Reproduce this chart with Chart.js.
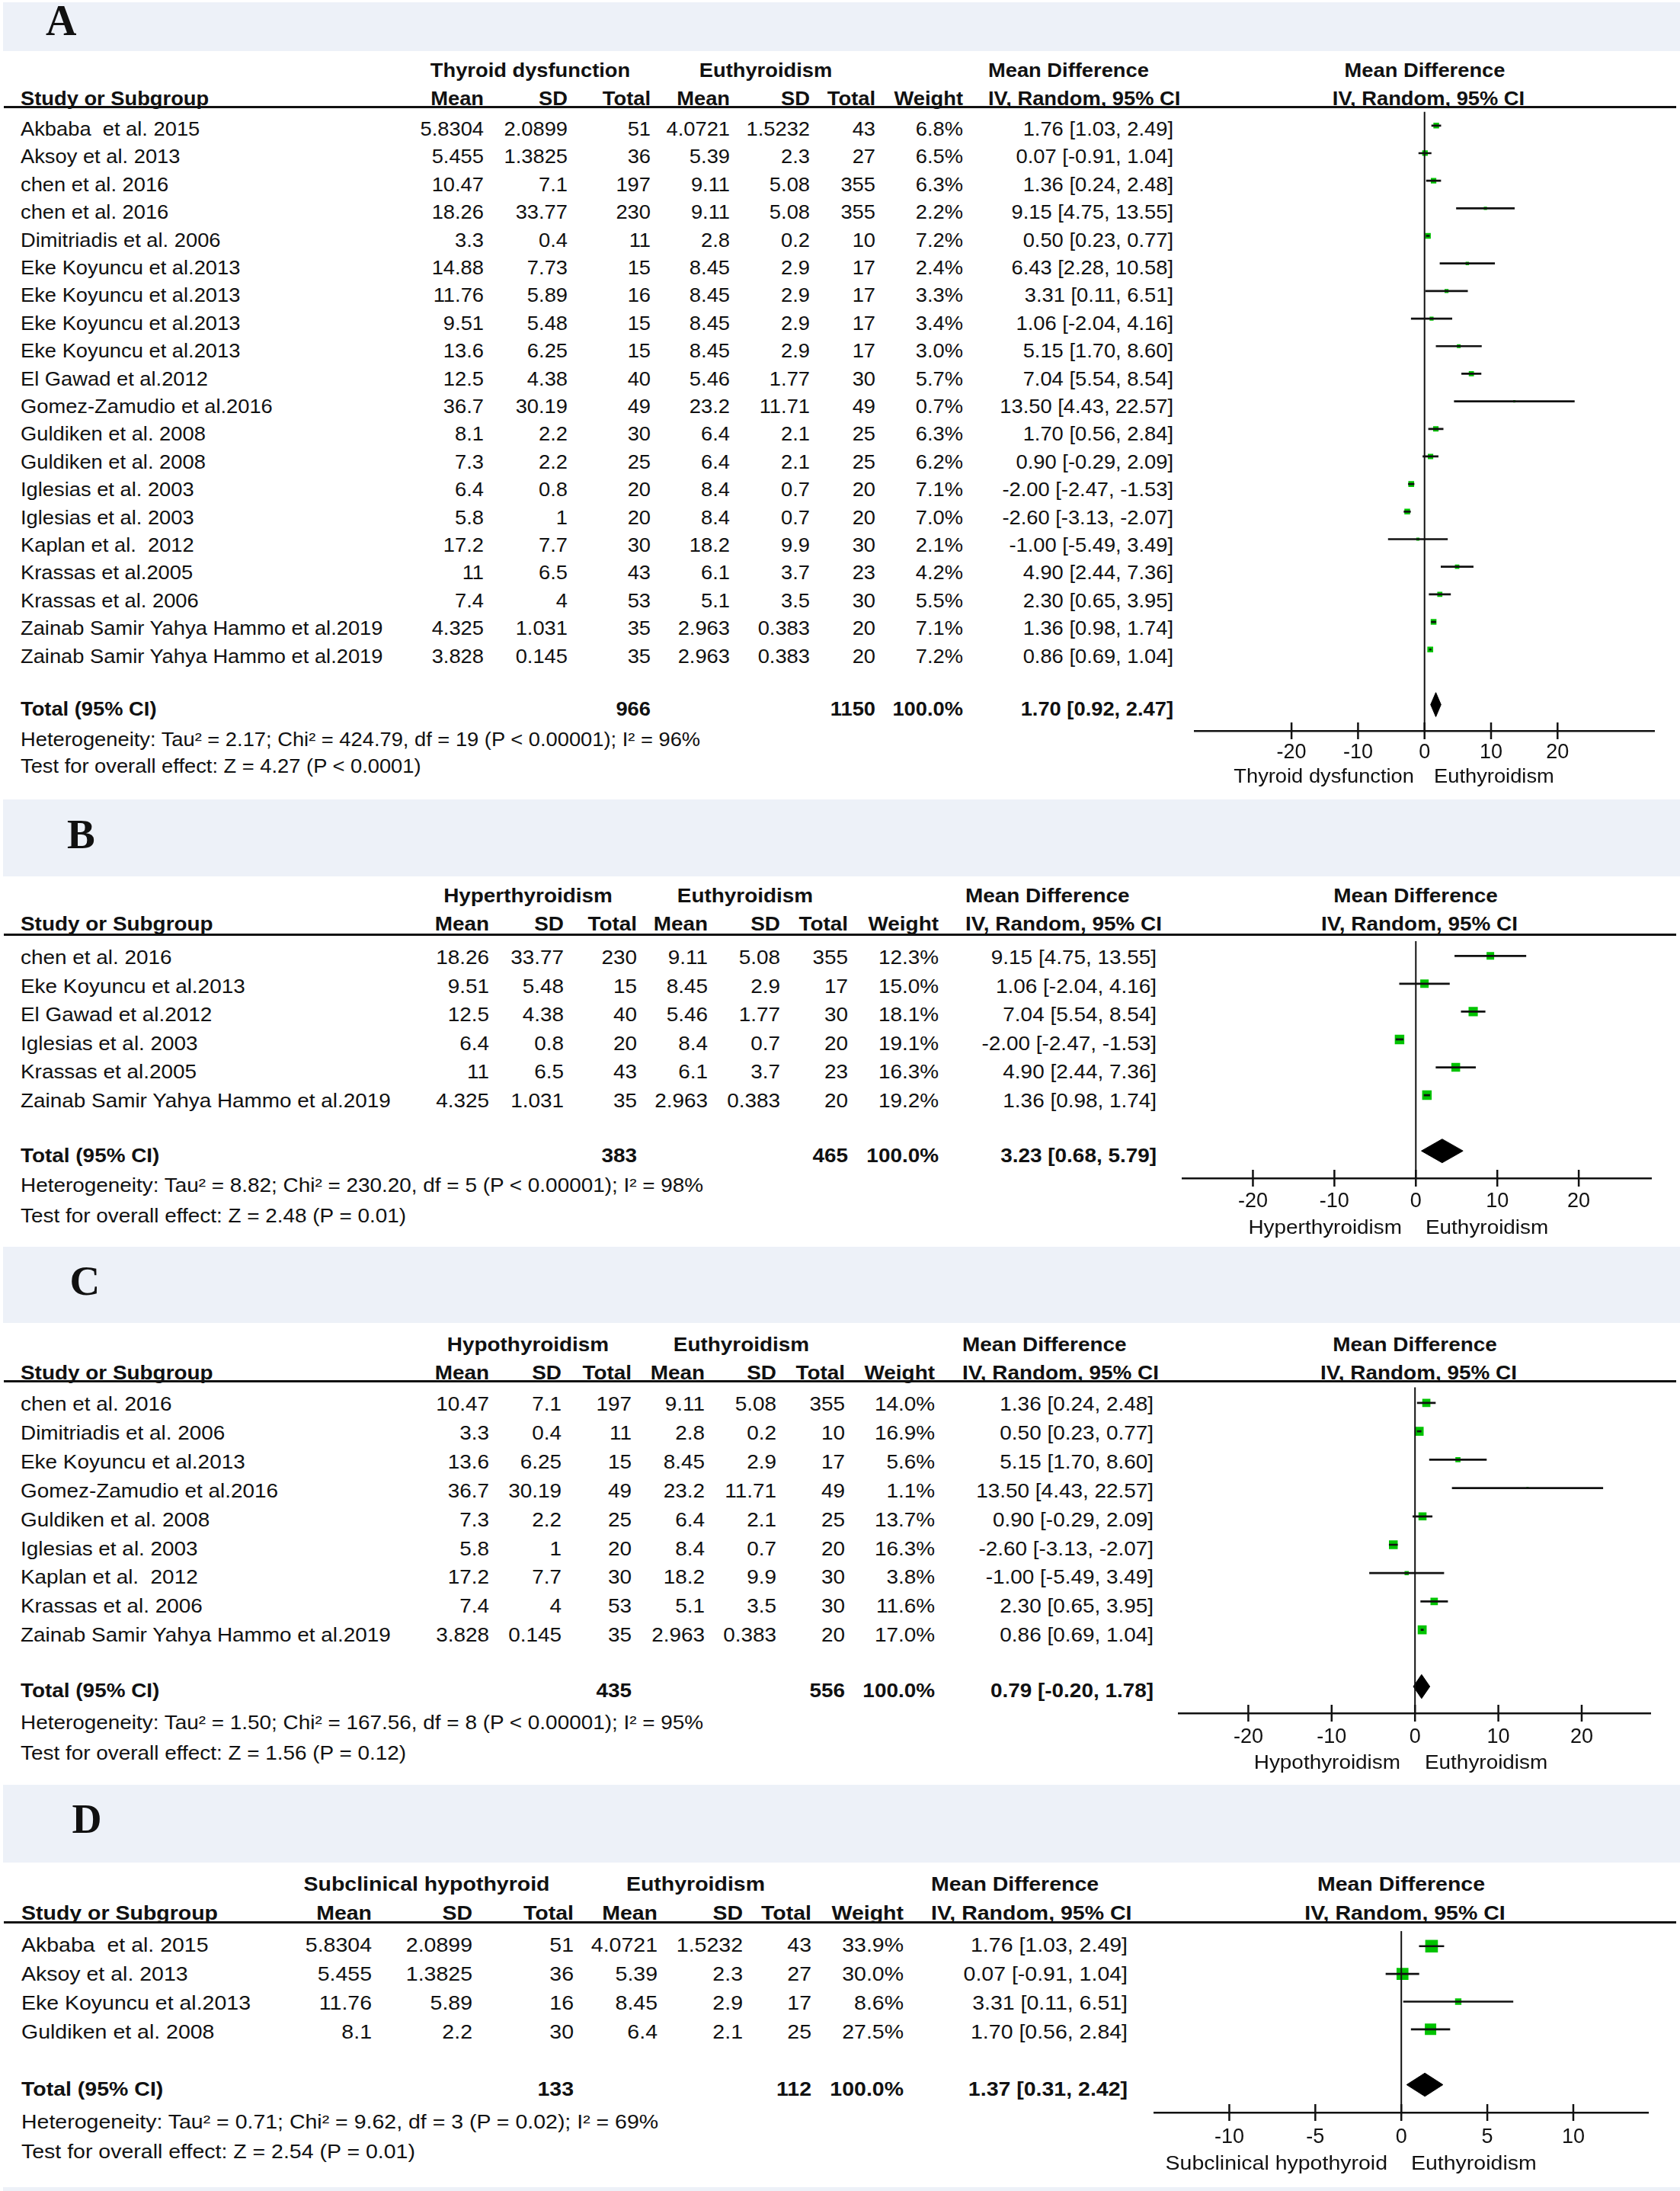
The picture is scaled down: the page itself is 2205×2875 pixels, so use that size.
<!DOCTYPE html>
<html>
<head>
<meta charset="utf-8">
<script src="https://cdn.jsdelivr.net/npm/chart.js@4.4.1/dist/chart.umd.min.js"></script>
<style>
body { margin: 0; background: #fff; }
#page { position: relative; width: 2205px; height: 2875px; overflow: hidden; font-family: "Liberation Sans", Arial, sans-serif; color: #111; }
.t { position: absolute; white-space: pre; font-size: 26px; line-height: 30px; height: 30px; }
.band { position: absolute; left: 4px; right: 0; background: #edf1f8; }
.hl { position: absolute; left: 5px; width: 2195px; height: 3px; background: #111; }
.letter { position: absolute; font-family: "Liberation Serif", "Times New Roman", serif; font-weight: bold; line-height: 60px; height: 60px; }
canvas { position: absolute; }
</style>
</head>
<body>
<div id="page"></div>
<script>
// ---- A: thyroid dysfunction vs euthyroidism ----
const namesA = ["Akbaba  et al. 2015", "Aksoy et al. 2013", "chen et al. 2016", "chen et al. 2016", "Dimitriadis et al. 2006",
  "Eke Koyuncu et al.2013", "Eke Koyuncu et al.2013", "Eke Koyuncu et al.2013", "Eke Koyuncu et al.2013", "El Gawad et al.2012",
  "Gomez-Zamudio et al.2016", "Guldiken et al. 2008", "Guldiken et al. 2008", "Iglesias et al. 2003", "Iglesias et al. 2003",
  "Kaplan et al.  2012", "Krassas et al.2005", "Krassas et al. 2006", "Zainab Samir Yahya Hammo et al.2019", "Zainab Samir Yahya Hammo et al.2019"];
const meanExpA = [5.8304, 5.455, 10.47, 18.26, 3.3, 14.88, 11.76, 9.51, 13.6, 12.5, 36.7, 8.1, 7.3, 6.4, 5.8, 17.2, 11, 7.4, 4.325, 3.828];
const sdExpA = [2.0899, 1.3825, 7.1, 33.77, 0.4, 7.73, 5.89, 5.48, 6.25, 4.38, 30.19, 2.2, 2.2, 0.8, 1, 7.7, 6.5, 4, 1.031, 0.145];
const nExpA = [51, 36, 197, 230, 11, 15, 16, 15, 15, 40, 49, 30, 25, 20, 20, 30, 43, 53, 35, 35];
const meanCtlA = [4.0721, 5.39, 9.11, 9.11, 2.8, 8.45, 8.45, 8.45, 8.45, 5.46, 23.2, 6.4, 6.4, 8.4, 8.4, 18.2, 6.1, 5.1, 2.963, 2.963];
const sdCtlA = [1.5232, 2.3, 5.08, 5.08, 0.2, 2.9, 2.9, 2.9, 2.9, 1.77, 11.71, 2.1, 2.1, 0.7, 0.7, 9.9, 3.7, 3.5, 0.383, 0.383];
const nCtlA = [43, 27, 355, 355, 10, 17, 17, 17, 17, 30, 49, 25, 25, 20, 20, 30, 23, 30, 20, 20];
const weightA = [6.8, 6.5, 6.3, 2.2, 7.2, 2.4, 3.3, 3.4, 3.0, 5.7, 0.7, 6.3, 6.2, 7.1, 7.0, 2.1, 4.2, 5.5, 7.1, 7.2];
const mdA = [1.76, 0.07, 1.36, 9.15, 0.50, 6.43, 3.31, 1.06, 5.15, 7.04, 13.50, 1.70, 0.90, -2.00, -2.60, -1.00, 4.90, 2.30, 1.36, 0.86];
const loA = [1.03, -0.91, 0.24, 4.75, 0.23, 2.28, 0.11, -2.04, 1.70, 5.54, 4.43, 0.56, -0.29, -2.47, -3.13, -5.49, 2.44, 0.65, 0.98, 0.69];
const hiA = [2.49, 1.04, 2.48, 13.55, 0.77, 10.58, 6.51, 4.16, 8.60, 8.54, 22.57, 2.84, 2.09, -1.53, -2.07, 3.49, 7.36, 3.95, 1.74, 1.04];
const totalA = [966, 1150, 1.70, 0.92, 2.47];
const groupA = "Thyroid dysfunction";
const hetA = "Heterogeneity: Tau² = 2.17; Chi² = 424.79, df = 19 (P < 0.00001); I² = 96%";
const testA = "Test for overall effect: Z = 4.27 (P < 0.0001)";
const ticksA = [-20, -10, 0, 10, 20];

// ---- B: hyperthyroidism ----
const namesB = ["chen et al. 2016", "Eke Koyuncu et al.2013", "El Gawad et al.2012", "Iglesias et al. 2003", "Krassas et al.2005", "Zainab Samir Yahya Hammo et al.2019"];
const meanExpB = [18.26, 9.51, 12.5, 6.4, 11, 4.325];
const sdExpB = [33.77, 5.48, 4.38, 0.8, 6.5, 1.031];
const nExpB = [230, 15, 40, 20, 43, 35];
const meanCtlB = [9.11, 8.45, 5.46, 8.4, 6.1, 2.963];
const sdCtlB = [5.08, 2.9, 1.77, 0.7, 3.7, 0.383];
const nCtlB = [355, 17, 30, 20, 23, 20];
const weightB = [12.3, 15.0, 18.1, 19.1, 16.3, 19.2];
const mdB = [9.15, 1.06, 7.04, -2.00, 4.90, 1.36];
const loB = [4.75, -2.04, 5.54, -2.47, 2.44, 0.98];
const hiB = [13.55, 4.16, 8.54, -1.53, 7.36, 1.74];
const totalB = [383, 465, 3.23, 0.68, 5.79];
const groupB = "Hyperthyroidism";
const hetB = "Heterogeneity: Tau² = 8.82; Chi² = 230.20, df = 5 (P < 0.00001); I² = 98%";
const testB = "Test for overall effect: Z = 2.48 (P = 0.01)";
const ticksB = [-20, -10, 0, 10, 20];

// ---- C: hypothyroidism ----
const namesC = ["chen et al. 2016", "Dimitriadis et al. 2006", "Eke Koyuncu et al.2013", "Gomez-Zamudio et al.2016", "Guldiken et al. 2008",
  "Iglesias et al. 2003", "Kaplan et al.  2012", "Krassas et al. 2006", "Zainab Samir Yahya Hammo et al.2019"];
const meanExpC = [10.47, 3.3, 13.6, 36.7, 7.3, 5.8, 17.2, 7.4, 3.828];
const sdExpC = [7.1, 0.4, 6.25, 30.19, 2.2, 1, 7.7, 4, 0.145];
const nExpC = [197, 11, 15, 49, 25, 20, 30, 53, 35];
const meanCtlC = [9.11, 2.8, 8.45, 23.2, 6.4, 8.4, 18.2, 5.1, 2.963];
const sdCtlC = [5.08, 0.2, 2.9, 11.71, 2.1, 0.7, 9.9, 3.5, 0.383];
const nCtlC = [355, 10, 17, 49, 25, 20, 30, 30, 20];
const weightC = [14.0, 16.9, 5.6, 1.1, 13.7, 16.3, 3.8, 11.6, 17.0];
const mdC = [1.36, 0.50, 5.15, 13.50, 0.90, -2.60, -1.00, 2.30, 0.86];
const loC = [0.24, 0.23, 1.70, 4.43, -0.29, -3.13, -5.49, 0.65, 0.69];
const hiC = [2.48, 0.77, 8.60, 22.57, 2.09, -2.07, 3.49, 3.95, 1.04];
const totalC = [435, 556, 0.79, -0.20, 1.78];
const groupC = "Hypothyroidism";
const hetC = "Heterogeneity: Tau² = 1.50; Chi² = 167.56, df = 8 (P < 0.00001); I² = 95%";
const testC = "Test for overall effect: Z = 1.56 (P = 0.12)";
const ticksC = [-20, -10, 0, 10, 20];

// ---- D: subclinical hypothyroid ----
const namesD = ["Akbaba  et al. 2015", "Aksoy et al. 2013", "Eke Koyuncu et al.2013", "Guldiken et al. 2008"];
const meanExpD = [5.8304, 5.455, 11.76, 8.1];
const sdExpD = [2.0899, 1.3825, 5.89, 2.2];
const nExpD = [51, 36, 16, 30];
const meanCtlD = [4.0721, 5.39, 8.45, 6.4];
const sdCtlD = [1.5232, 2.3, 2.9, 2.1];
const nCtlD = [43, 27, 17, 25];
const weightD = [33.9, 30.0, 8.6, 27.5];
const mdD = [1.76, 0.07, 3.31, 1.70];
const loD = [1.03, -0.91, 0.11, 0.56];
const hiD = [2.49, 1.04, 6.51, 2.84];
const totalD = [133, 112, 1.37, 0.31, 2.42];
const groupD = "Subclinical hypothyroid";
const hetD = "Heterogeneity: Tau² = 0.71; Chi² = 9.62, df = 3 (P = 0.02); I² = 69%";
const testD = "Test for overall effect: Z = 2.54 (P = 0.01)";
const ticksD = [-10, -5, 0, 5, 10];

const page = document.getElementById("page");
const fontFam = '"Liberation Sans", Arial, sans-serif';
const green = "#00c300";

function box(cls, top, height) {
  const e = document.createElement("div");
  e.className = cls;
  e.style.top = top + "px";
  if (height) e.style.height = height + "px";
  page.appendChild(e);
  return e;
}

function txt(x, y, s, align, bold, sx) {
  const e = document.createElement("div");
  e.className = "t";
  e.textContent = s;
  if (bold) e.style.fontWeight = "bold";
  e.style.top = (y - 15) + "px";
  if (align == "l") {
    e.style.left = x + "px";
    e.style.transformOrigin = "left center";
  } else if (align == "r") {
    e.style.left = (x - 1200) + "px";
    e.style.width = "1200px";
    e.style.textAlign = "right";
    e.style.transformOrigin = "right center";
  } else {
    e.style.left = (x - 600) + "px";
    e.style.width = "1200px";
    e.style.textAlign = "center";
    e.style.transformOrigin = "center center";
  }
  e.style.transform = "scaleX(" + sx + ")";
  page.appendChild(e);
}

function ci(m, l, h) {
  return m.toFixed(2) + " [" + l.toFixed(2) + ", " + h.toFixed(2) + "]";
}

// tick marks that cross the axis line
const crossTicks = {
  id: "crossTicks",
  afterDraw(chart) {
    const s = chart.scales.x;
    const c = chart.ctx;
    const y = chart.chartArea.bottom;
    c.save();
    c.strokeStyle = "#111";
    c.lineWidth = 2.5;
    s.ticks.forEach(t => {
      const px = s.getPixelForValue(t.value);
      c.beginPath();
      c.moveTo(px, y - 11);
      c.lineTo(px, y + 11);
      c.stroke();
    });
    c.restore();
  }
};

function panel(d, L) {
  const sx = L.sx;
  box("band", L.band[0], L.band[1]);
  const lt = document.createElement("div");
  lt.className = "letter";
  lt.textContent = L.letter;
  lt.style.left = L.letterX + "px";
  lt.style.top = (L.letterY - 30) + "px";
  lt.style.fontSize = L.letterSize + "px";
  page.appendChild(lt);

  const c = L.colR;
  // header rows
  txt(L.g1c, L.h1y, d.group, "c", true, sx);
  txt(L.g2c, L.h1y, "Euthyroidism", "c", true, sx);
  txt(L.mdL, L.h1y, "Mean Difference", "l", true, sx);
  txt(L.zero, L.h1y, "Mean Difference", "c", true, sx);
  txt(L.nameX, L.h2y, "Study or Subgroup", "l", true, sx);
  ["Mean", "SD", "Total", "Mean", "SD", "Total", "Weight"].forEach((h, k) => txt(c[k], L.h2y, h, "r", true, sx));
  txt(L.mdL, L.h2y, "IV, Random, 95% CI", "l", true, sx);
  txt(L.zero + 5, L.h2y, "IV, Random, 95% CI", "c", true, sx);
  box("hl", L.lineY - 1.5);

  // study rows
  d.names.forEach((nm, i) => {
    const y = L.row0 + i * L.sp + L.off;
    txt(L.nameX, y, nm, "l", false, sx);
    txt(c[0], y, String(d.mE[i]), "r", false, sx);
    txt(c[1], y, String(d.sE[i]), "r", false, sx);
    txt(c[2], y, String(d.nE[i]), "r", false, sx);
    txt(c[3], y, String(d.mC[i]), "r", false, sx);
    txt(c[4], y, String(d.sC[i]), "r", false, sx);
    txt(c[5], y, String(d.nC[i]), "r", false, sx);
    txt(c[6], y, d.w[i].toFixed(1) + "%", "r", false, sx);
    txt(c[7], y, ci(d.md[i], d.lo[i], d.hi[i]), "r", false, sx);
  });

  // total + footnotes
  const T = d.total;
  txt(L.nameX, L.totY, "Total (95% CI)", "l", true, sx);
  txt(c[2], L.totY, String(T[0]), "r", true, sx);
  txt(c[5], L.totY, String(T[1]), "r", true, sx);
  txt(c[6], L.totY, "100.0%", "r", true, sx);
  txt(c[7], L.totY, ci(T[2], T[3], T[4]), "r", true, sx);
  txt(L.nameX, L.hetY, d.het, "l", false, sx);
  txt(L.nameX, L.testY, d.test, "l", false, sx);

  // forest plot
  const below = 70;
  const cv = document.createElement("canvas");
  const cw = Math.round(L.axR - L.axL);
  const ch = Math.round(L.axY - L.lineY) + below;
  cv.width = cw;
  cv.height = ch;
  cv.style.left = L.axL + "px";
  cv.style.top = L.lineY + "px";
  cv.style.width = cw + "px";
  cv.style.height = ch + "px";
  page.appendChild(cv);

  const yMin = (L.lineY - L.row0) / L.sp;
  const yMax = (L.axY - L.row0) / L.sp;
  const n = d.names.length;
  const ti = n + 1;
  const hh = 16 / L.sp;

  const ds = [];
  ds.push({ type: "line", data: [{ x: 0, y: yMin }, { x: 0, y: yMax }], borderColor: "#111", borderWidth: 2, pointRadius: 0, fill: false });
  d.md.forEach((m, i) => {
    ds.push({ type: "line", data: [{ x: d.lo[i], y: i }, { x: d.hi[i], y: i }], borderColor: "#111", borderWidth: 2.7, pointRadius: 0, fill: false });
  });
  ds.push({
    type: "line",
    data: [{ x: T[3], y: ti }, { x: T[2], y: ti - hh }, { x: T[4], y: ti }, { x: T[2], y: ti + hh }, { x: T[3], y: ti }],
    borderColor: "#000", borderWidth: 1, backgroundColor: "#000", pointRadius: 0, fill: "shape", tension: 0
  });
  ds.push({
    type: "scatter",
    data: d.md.map((m, i) => ({ x: m, y: i })),
    pointStyle: "rect",
    pointRadius: d.w.map(w => Math.max(2.2, 2.85 * Math.sqrt(w) / Math.SQRT2)),
    pointBackgroundColor: green,
    pointBorderWidth: 0,
    showLine: false
  });

  const tickVals = L.ticks;
  new Chart(cv, {
    type: "scatter",
    data: { datasets: ds },
    options: {
      responsive: false,
      animation: false,
      devicePixelRatio: 1,
      layout: { padding: 0 },
      plugins: { legend: { display: false }, tooltip: { enabled: false } },
      events: [],
      scales: {
        x: {
          type: "linear",
          min: (L.axL - L.zero) / L.ppu,
          max: (L.axR - L.zero) / L.ppu,
          afterBuildTicks: s => { s.ticks = tickVals.map(v => ({ value: v })); },
          afterFit: s => { s.height = below; },
          grid: { display: false, drawTicks: false },
          border: { display: true, color: "#111", width: 2.5 },
          ticks: { color: "#111", padding: L.tickPad, font: { family: fontFam, size: 27 }, maxRotation: 0, autoSkip: false }
        },
        y: { type: "linear", display: false, reverse: true, min: yMin, max: yMax }
      }
    },
    plugins: [crossTicks]
  });

  txt(L.zero - L.sideL, L.sideY, d.group, "r", false, sx);
  txt(L.zero + L.sideR, L.sideY, "Euthyroidism", "l", false, sx);
}

panel(
  { names: namesA, mE: meanExpA, sE: sdExpA, nE: nExpA, mC: meanCtlA, sC: sdCtlA, nC: nCtlA, w: weightA, md: mdA, lo: loA, hi: hiA, total: totalA, group: groupA, het: hetA, test: testA },
  { band: [3, 64], letter: "A", letterX: 60, letterY: 26.5, letterSize: 56,
    h1y: 92, h2y: 128.5, lineY: 140.5, nameX: 27,
    colR: [635, 745, 854, 958, 1063, 1149, 1263.5, 1540], mdL: 1297, g1c: 696, g2c: 1005,
    row0: 159, sp: 36.4, off: 10, totY: 930, hetY: 970, testY: 1005,
    axY: 958, zero: 1869.5, ppu: 8.88, axL: 1563, axR: 2176.6, tickPad: 12, sideY: 1018, sideL: 14, sideR: 12, sx: 1.05, ticks: ticksA });

panel(
  { names: namesB, mE: meanExpB, sE: sdExpB, nE: nExpB, mC: meanCtlB, sC: sdCtlB, nC: nCtlB, w: weightB, md: mdB, lo: loB, hi: hiB, total: totalB, group: groupB, het: hetB, test: testB },
  { band: [1049, 101], letter: "B", letterX: 88, letterY: 1095, letterSize: 55,
    h1y: 1175, h2y: 1212, lineY: 1226, nameX: 27,
    colR: [642, 740, 836, 929, 1024, 1113, 1231.6, 1517.6], mdL: 1267, g1c: 692.5, g2c: 978,
    row0: 1246, sp: 37.6, off: 10, totY: 1516, hetY: 1555, testY: 1595,
    axY: 1546, zero: 1858, ppu: 11.0, axL: 1542.7, axR: 2175.8, tickPad: 14, sideY: 1610, sideL: 18, sideR: 13, sx: 1.073, ticks: ticksB });

panel(
  { names: namesC, mE: meanExpC, sE: sdExpC, nE: nExpC, mC: meanCtlC, sC: sdCtlC, nC: nCtlC, w: weightC, md: mdC, lo: loC, hi: hiC, total: totalC, group: groupC, het: hetC, test: testC },
  { band: [1636, 100], letter: "C", letterX: 91.5, letterY: 1681, letterSize: 55,
    h1y: 1764, h2y: 1801, lineY: 1812, nameX: 27,
    colR: [642, 736.6, 829, 924.6, 1019, 1108.5, 1227, 1514], mdL: 1262.7, g1c: 693, g2c: 973,
    row0: 1833, sp: 37.9, off: 9, totY: 2218, hetY: 2260, testY: 2300,
    axY: 2247.6, zero: 1857, ppu: 11.24, axL: 1538.6, axR: 2175, tickPad: 15, sideY: 2311.7, sideL: 19, sideR: 13, sx: 1.073, ticks: ticksC });

panel(
  { names: namesD, mE: meanExpD, sE: sdExpD, nE: nExpD, mC: meanCtlD, sC: sdCtlD, nC: nCtlD, w: weightD, md: mdD, lo: loD, hi: hiD, total: totalD, group: groupD, het: hetD, test: testD },
  { band: [2342, 102], letter: "D", letterX: 94.5, letterY: 2387, letterSize: 54,
    h1y: 2472, h2y: 2510, lineY: 2522, nameX: 28,
    colR: [487.6, 620, 753, 862.7, 975, 1065, 1186, 1480], mdL: 1222, g1c: 560, g2c: 913,
    row0: 2543, sp: 38.1, off: 9, totY: 2741, hetY: 2783.7, testY: 2822.7,
    axY: 2771.7, zero: 1839, ppu: 23.38, axL: 1504, axR: 2174.6, tickPad: 16, sideY: 2838, sideL: 18, sideR: 13, sx: 1.096, ticks: ticksD });

box("band", 2870, 5);
</script>
</body>
</html>
